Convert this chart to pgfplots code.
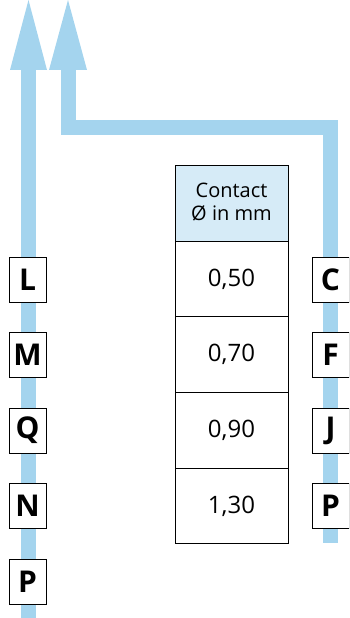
\documentclass[border=0pt]{standalone}
\usepackage{pgfplots}
\pgfplotsset{compat=1.18}
\usepackage{fontspec}
\setmainfont{Open Sans}
\definecolor{arrowblue}{RGB}{164,212,238}
\definecolor{headblue}{RGB}{214,235,247}
\tikzset{letter/.style={draw=black, fill=white, line width=0.8pt, minimum width=37pt, minimum height=45pt, inner sep=0pt, font=\fontsize{30}{32}\selectfont\bfseries}}
\begin{document}
\begin{tikzpicture}
\begin{axis}[
  scale only axis, width=349pt, height=618pt,
  xmin=0, xmax=349, ymin=0, ymax=618,
  hide axis, clip=true,
  every axis plot/.append style={line cap=butt, line join=miter},
]
% left arrow (straight up)
\addplot[arrowblue, line width=15pt, no marks] coordinates {(28.5,0) (28.5,553)};
\addplot[fill=arrowblue, draw=none, no marks] coordinates {(10,548) (28.5,618) (47,548)} --cycle;
% second arrow (bent)
\addplot[arrowblue, line width=15pt, no marks] coordinates {(330.5,75) (330.5,490.5) (68.5,490.5) (68.5,553)};
\addplot[fill=arrowblue, draw=none, no marks] coordinates {(49,548) (68,618) (87,548)} --cycle;
% table
\addplot[fill=headblue, draw=black, line width=0.8pt, no marks] coordinates {(175,453) (288,453) (288,377) (175,377)} --cycle;
\addplot[fill=white, draw=black, line width=0.8pt, no marks] coordinates {(175,377) (288,377) (288,75) (175,75)} --cycle;
\addplot[black, line width=0.8pt, no marks] coordinates {(175,301.5) (288,301.5)};
\addplot[black, line width=0.8pt, no marks] coordinates {(175,226) (288,226)};
\addplot[black, line width=0.8pt, no marks] coordinates {(175,150) (288,150)};
\node[align=center, font=\fontsize{20}{23}\selectfont] at (axis cs:231.5,416) {Contact\\Ø in mm};
\node[font=\fontsize{24}{26}\selectfont] at (axis cs:231.5,339) {0,50};
\node[font=\fontsize{24}{26}\selectfont] at (axis cs:231.5,264) {0,70};
\node[font=\fontsize{24}{26}\selectfont] at (axis cs:231.5,188) {0,90};
\node[font=\fontsize{24}{26}\selectfont] at (axis cs:231.5,112) {1,30};
% letter boxes left
\node[letter] at (axis cs:27.5,338.5) {L};
\node[letter] at (axis cs:27.5,263.5) {M};
\node[letter] at (axis cs:27.5,187.5) {Q};
\node[letter] at (axis cs:27.5,112) {N};
\node[letter] at (axis cs:27.5,36.5) {P};
% letter boxes right
\node[letter] at (axis cs:330.5,338.5) {C};
\node[letter] at (axis cs:330.5,263.5) {F};
\node[letter] at (axis cs:330.5,187.5) {J};
\node[letter] at (axis cs:330.5,112) {P};
\end{axis}
\pgfresetboundingbox
\useasboundingbox (0,0) rectangle (349pt,618pt);
\end{tikzpicture}
\end{document}
